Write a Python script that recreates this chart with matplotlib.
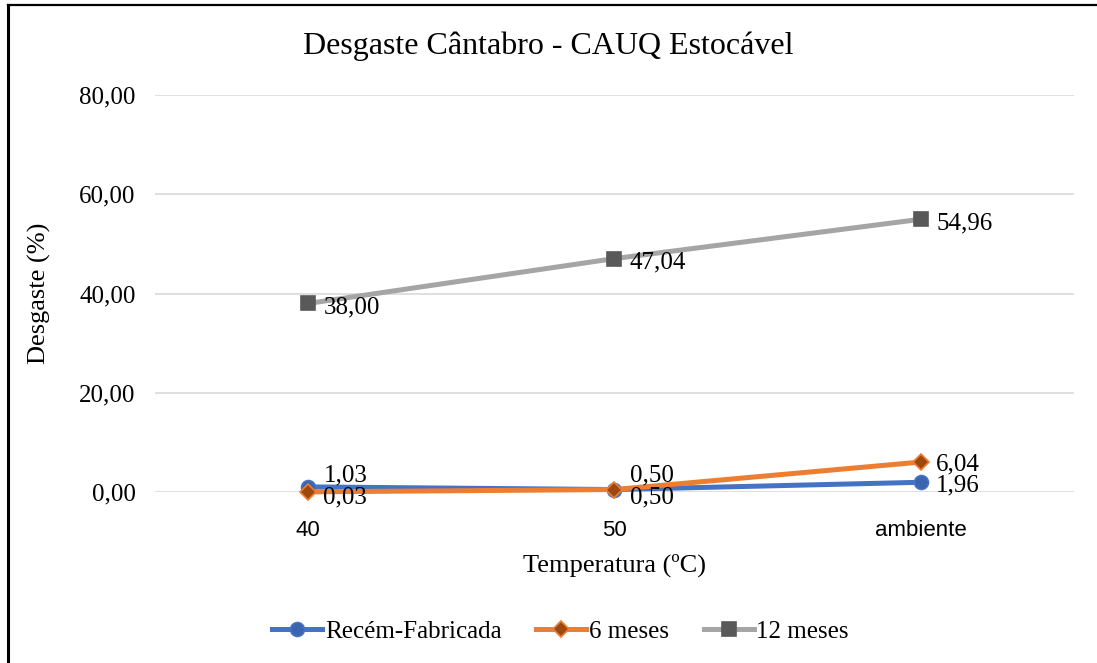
import matplotlib
matplotlib.use('Agg')
import matplotlib.pyplot as plt
from matplotlib.lines import Line2D

# desgaste cântabro por temperatura de estocagem
temperaturas = ['40', '50', 'ambiente']
recem = [1.03, 0.50, 1.96]
seis_meses = [0.03, 0.50, 6.04]
doze_meses = [38.00, 47.04, 54.96]
y_ticks = [0, 20, 40, 60, 80]

serif = 'Liberation Serif'

fig = plt.figure(figsize=(10.97, 6.63), dpi=100)
ax = fig.add_axes([0.1413, 0.2579, 0.9790 - 0.1413, 0.8567 - 0.2579])

x = list(range(len(temperaturas)))

series = [
    (recem, 'Recém-Fabricada', '#4472C4', 'o', '#3a64b0', '#4472C4', 10),
    (seis_meses, '6 meses', '#ED7D31', 'D', '#9E480E', '#ED7D31', 8),
    (doze_meses, '12 meses', '#A5A5A5', 's', '#595959', '#595959', 10),
]

# deslocamento vertical dos rótulos (pt) para não sobrepor nos pontos coincidentes
desloc = {0: [8, 10, -2], 1: [-4, -6, -2], 2: [-3, -3, -3]}

handles = []
for i, (vals, nome, cor, mk, face, edge, ms) in enumerate(series):
    ax.plot(x, vals, color=cor, lw=3.6, marker=mk, ms=ms,
            markerfacecolor=face, markeredgecolor=edge, markeredgewidth=1.2,
            clip_on=False, zorder=3, solid_capstyle='round')
    for xi, v in zip(x, vals):
        ax.annotate(f'{v:.2f}'.replace('.', ','), (xi, v),
                    xytext=(11, desloc[i][xi]),
                    textcoords='offset points', ha='left', va='center',
                    fontsize=18, family=serif, zorder=4)
    handles.append(Line2D([], [], color=cor, lw=3.6, marker=mk, ms=ms,
                          markerfacecolor=face, markeredgecolor=edge,
                          markeredgewidth=1.2, label=nome))

ax.set_xlim(-0.5, 2.5)
ax.set_ylim(0, 80)
ax.set_xticks(x)
ax.set_xticklabels(temperaturas, fontsize=16, family='Liberation Sans')
ax.set_yticks(y_ticks)
ax.set_yticklabels([f'{t:.2f}'.replace('.', ',') for t in y_ticks],
                   fontsize=18, family=serif)
ax.tick_params(axis='y', length=0, pad=14)
ax.tick_params(axis='x', length=0, pad=20)
ax.grid(axis='y', color='#D9D9D9', lw=1.2)
ax.set_axisbelow(True)
for s in ax.spines.values():
    s.set_visible(False)

ax.set_xlabel('Temperatura (ºC)', fontsize=19, family=serif, labelpad=9)
ax.set_ylabel('Desgaste (%)', fontsize=19, family=serif, labelpad=20)
fig.text(0.5, 0.930, 'Desgaste Cântabro - CAUQ Estocável', ha='center',
         va='center', fontsize=23, family=serif)

leg = fig.legend(handles=handles, loc='center', bbox_to_anchor=(0.511, 0.047),
                 ncol=3, frameon=False, handlelength=2.0, columnspacing=1.4,
                 handletextpad=0.1, prop={'family': serif, 'size': 18})

# moldura do gráfico
fig.add_artist(Line2D([0.0075, 0.0075], [0, 0.993], color='black', lw=2.2,
                      transform=fig.transFigure))
fig.add_artist(Line2D([0.0075, 1.0], [0.993, 0.993], color='black', lw=1.6,
                      transform=fig.transFigure))

fig.savefig('out.png', dpi=100)
